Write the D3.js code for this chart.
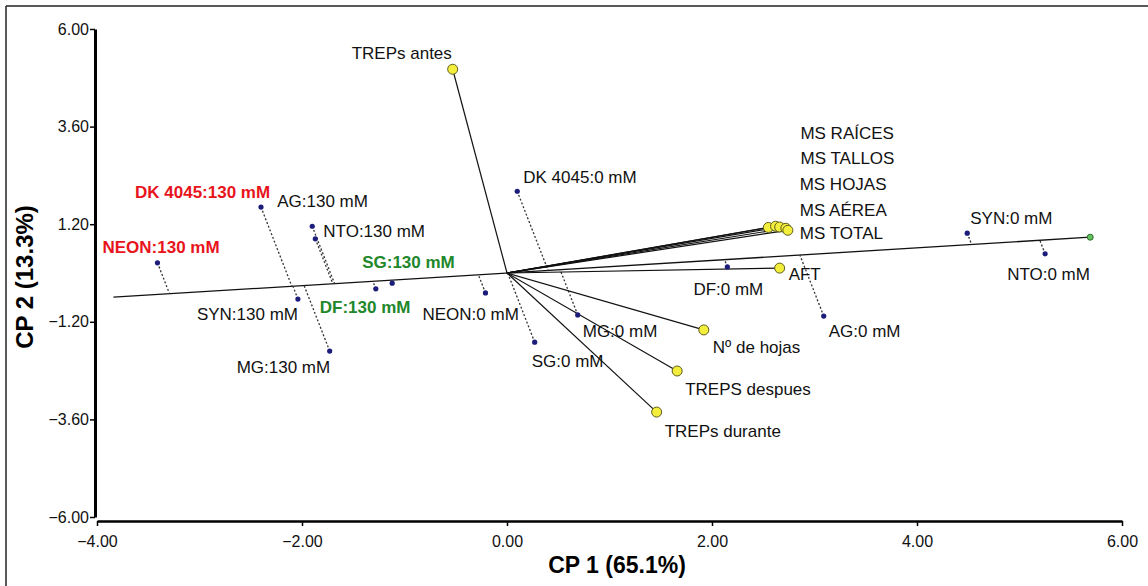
<!DOCTYPE html>
<html>
<head>
<meta charset="utf-8">
<script src="https://cdn.jsdelivr.net/npm/d3@7"></script>
<style>
  body { margin: 0; background: #fff; }
  svg { display: block; font-family: Arial, "Liberation Sans", sans-serif; }
</style>
</head>
<body>
<svg id="chart" width="1148" height="586"></svg>
<script>
// observations (CP1, CP2)
let obsNames = ["NEON:130 mM", "DK 4045:130 mM", "AG:130 mM", "NTO:130 mM", "SG:130 mM", "DF:130 mM",
    "SYN:130 mM", "MG:130 mM", "DK 4045:0 mM", "NEON:0 mM", "SG:0 mM", "MG:0 mM",
    "DF:0 mM", "AG:0 mM", "SYN:0 mM", "NTO:0 mM"];
let obsX = [-3.41, -2.40, -1.90, -1.87, -1.12, -1.28, -2.04, -1.73, 0.10, -0.21, 0.27, 0.69, 2.15, 3.09, 4.49, 5.25];
let obsY = [0.25, 1.62, 1.15, 0.84, -0.25, -0.39, -0.64, -1.92, 2.01, -0.49, -1.70, -1.03, 0.15, -1.06, 0.98, 0.47];
let obsColor = ["red", "red", "black", "black", "green", "green", "black", "black",
    "black", "black", "black", "black", "black", "black", "black", "black"];

// variables (loadings)
let varNames = ["TREPs antes", "MS RAÍCES", "MS TALLOS", "MS HOJAS", "MS AÉREA", "MS TOTAL",
    "AFT", "Nº de hojas", "TREPS despues", "TREPs durante"];
let varX = [-0.53, 2.55, 2.62, 2.66, 2.72, 2.74, 2.66, 1.92, 1.66, 1.46];
let varY = [5.01, 1.12, 1.15, 1.13, 1.10, 1.05, 0.12, -1.40, -2.41, -3.42];

// projection axis (start, end)
let projAxis = [[-3.84, -0.595], [5.69, 0.88]];

let xTicks = [-4, -2, 0, 2, 4, 6];
let yTicks = [-6, -3.6, -1.2, 1.2, 3.6, 6];

// label offsets in px (dx, dy from the mark)
let obsLabelOffset = [[-55, -10], [-126, -9], [-35, -19], [8, -2], [-30, -15], [-56, 24],
    [-101, 21], [-93, 22], [6, -8], [-63, 27], [-3, 25], [5, 22],
    [-34, 28], [5, 21], [3, -9], [-38, 26]];
let varLabelOffset = [[-101, -10], [32, -88], [25, -62], [20, -37], [14, -12], [12, 9],
    [9, 12], [9, 23], [8, 24], [8, 25]];

let colors = { red: "#e8141c", green: "#21872a", black: "#111" };

function createChart() {
    let svg = d3.select("#chart");

    let x = d3.scaleLinear().domain([-4, 6]).range([97, 1122]);
    let y = d3.scaleLinear().domain([-6, 6]).range([517, 29]);

    // frame (left / top edges visible)
    svg.append("line").attr("x1", 6).attr("x2", 6).attr("y1", 6).attr("y2", 586)
        .attr("stroke", "#222").attr("stroke-width", 1.5);
    svg.append("line").attr("x1", 6).attr("x2", 1148).attr("y1", 6).attr("y2", 6)
        .attr("stroke", "#222").attr("stroke-width", 1.5);

    // axes
    let xAxis = svg.append("g")
        .attr("transform", "translate(0,521)")
        .call(d3.axisBottom(x).tickValues(xTicks).tickFormat(d3.format(".2f")).tickSize(5).tickSizeOuter(0));
    xAxis.select(".domain").attr("stroke", "#000").attr("stroke-width", 2.5);
    xAxis.selectAll(".tick line").attr("stroke-width", 1.5);
    xAxis.selectAll("text").attr("font-size", 16).attr("fill", "#111").attr("dy", "1.15em");

    let yAxis = svg.append("g")
        .attr("transform", "translate(95,0)")
        .call(d3.axisLeft(y).tickValues(yTicks).tickFormat(d3.format(".2f")).tickSize(5).tickSizeOuter(0));
    yAxis.select(".domain").attr("stroke", "#000").attr("stroke-width", 3);
    yAxis.selectAll(".tick line").attr("stroke-width", 1.5);
    yAxis.selectAll("text").attr("font-size", 16).attr("fill", "#111").attr("x", -6);

    svg.append("text")
        .attr("x", 617).attr("y", 573)
        .attr("text-anchor", "middle")
        .attr("font-size", 23).attr("font-weight", "bold")
        .text("CP 1 (65.1%)");
    svg.append("text")
        .attr("transform", "translate(33,277) rotate(-90)")
        .attr("text-anchor", "middle")
        .attr("font-size", 24).attr("font-weight", "bold")
        .text("CP 2 (13.3%)");

    // projection axis
    svg.append("line")
        .attr("x1", x(projAxis[0][0])).attr("y1", y(projAxis[0][1]))
        .attr("x2", x(projAxis[1][0])).attr("y2", y(projAxis[1][1]))
        .attr("stroke", "#111").attr("stroke-width", 1.3);

    // dotted projections of observations onto the axis
    let ax = projAxis[1][0], ay = projAxis[1][1];
    let len = Math.sqrt(ax * ax + ay * ay);
    let ux = ax / len, uy = ay / len;
    obsX.forEach((ox, i) => {
        let t = ox * ux + obsY[i] * uy;
        svg.append("line")
            .attr("x1", x(ox)).attr("y1", y(obsY[i]))
            .attr("x2", x(t * ux)).attr("y2", y(t * uy))
            .attr("stroke", "#333").attr("stroke-width", 1.3)
            .attr("stroke-dasharray", "2,2");
    });

    // variable vectors
    varX.forEach((vx, i) => {
        svg.append("line")
            .attr("x1", x(0)).attr("y1", y(0))
            .attr("x2", x(vx)).attr("y2", y(varY[i]))
            .attr("stroke", "#111").attr("stroke-width", 1.2);
    });

    svg.append("circle")
        .attr("cx", x(projAxis[1][0])).attr("cy", y(projAxis[1][1])).attr("r", 3)
        .attr("fill", "#62c25c").attr("stroke", "#2d6b2d").attr("stroke-width", 1);

    varX.forEach((vx, i) => {
        svg.append("circle")
            .attr("cx", x(vx)).attr("cy", y(varY[i])).attr("r", 5)
            .attr("fill", "#f3ee3c").attr("stroke", "#5e5c1c").attr("stroke-width", 1);
    });

    obsX.forEach((ox, i) => {
        svg.append("circle")
            .attr("cx", x(ox)).attr("cy", y(obsY[i])).attr("r", 2.6)
            .attr("fill", "#1c1c7a");
    });

    // labels
    obsNames.forEach((name, i) => {
        let bold = obsColor[i] !== "black";
        svg.append("text")
            .attr("x", x(obsX[i]) + obsLabelOffset[i][0])
            .attr("y", y(obsY[i]) + obsLabelOffset[i][1])
            .attr("font-size", 17)
            .attr("font-weight", bold ? "bold" : "normal")
            .attr("fill", colors[obsColor[i]])
            .text(name);
    });
    varNames.forEach((name, i) => {
        svg.append("text")
            .attr("x", x(varX[i]) + varLabelOffset[i][0])
            .attr("y", y(varY[i]) + varLabelOffset[i][1])
            .attr("font-size", 17)
            .attr("fill", "#111")
            .text(name);
    });
}

createChart();
</script>
</body>
</html>
